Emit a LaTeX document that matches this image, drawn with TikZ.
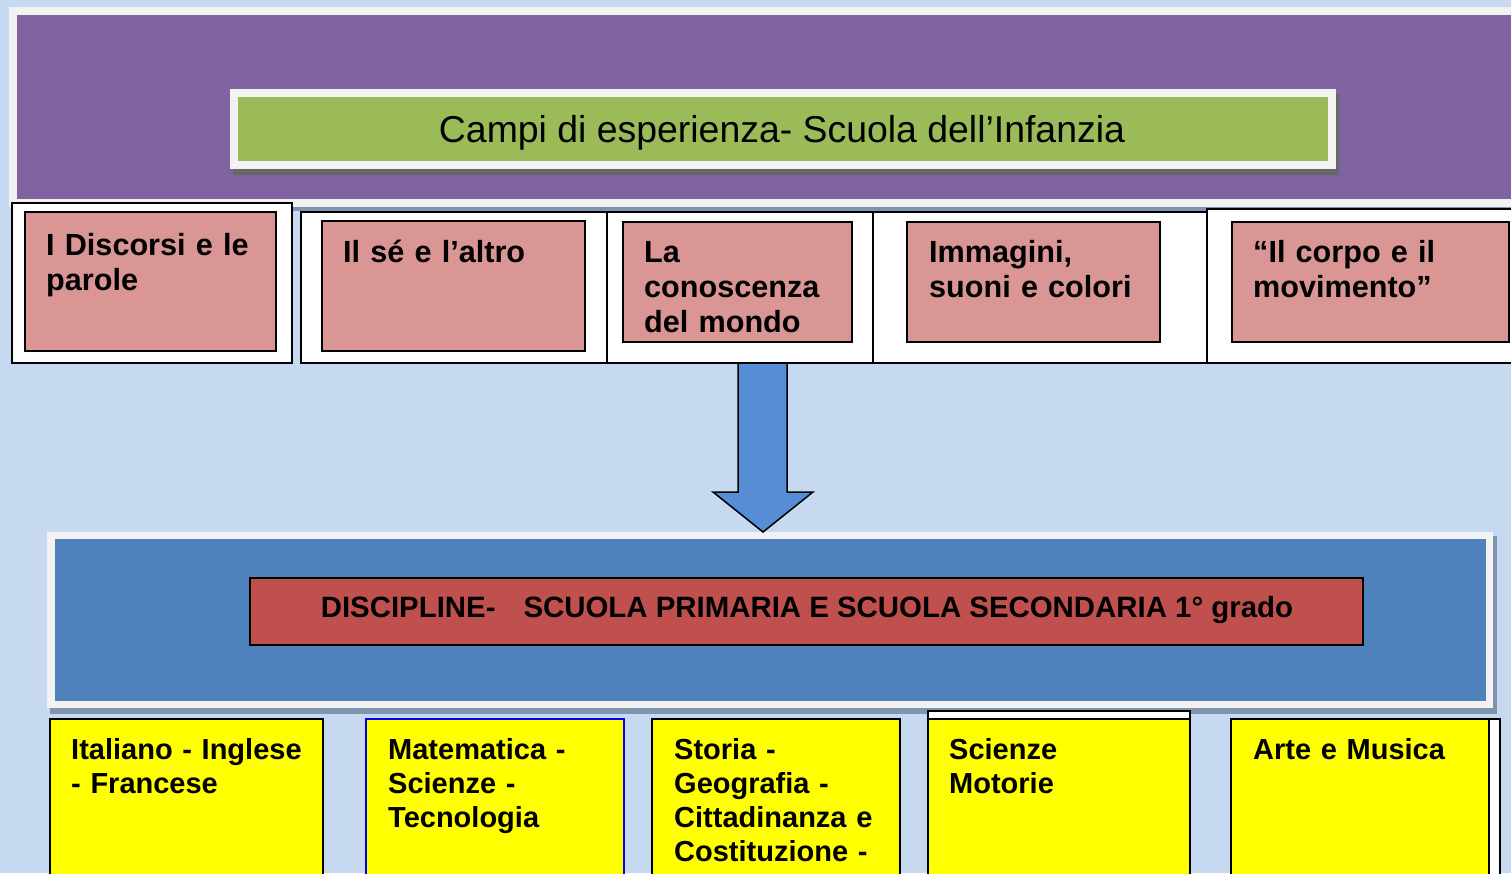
\documentclass[tikz,border=0pt]{standalone}
\usepackage{fontspec}
\setmainfont{Liberation Sans}
\definecolor{bgc}{HTML}{C6D9F0}
\definecolor{framec}{HTML}{F2F2F2}
\definecolor{purplec}{HTML}{8064A2}
\definecolor{greenc}{HTML}{9BBB59}
\definecolor{pinkc}{HTML}{D99694}
\definecolor{arrowc}{HTML}{558ED5}
\definecolor{panelc}{HTML}{4F81BD}
\definecolor{redc}{HTML}{C0504D}
\definecolor{yellowc}{HTML}{FFFF00}
\definecolor{darkshadow}{HTML}{676767}
\definecolor{panelshadow}{HTML}{7F94AE}
\newcommand\rnode[6]{\node[#6, anchor=north west, outer sep=0pt, inner sep=0pt,
  minimum width={#4pt-#2pt}, minimum height={#5pt-#3pt}] (#1) at (#2,#3) {};}
\tikzset{
  shadowbox/.style={rectangle, fill=#1},
  whiteframe/.style={rectangle, fill=framec},
  outerframe/.style={rectangle, fill=white, draw=black, line width=1.5pt},
  pinkbox/.style={rectangle, fill=pinkc, draw=black, line width=2pt},
  yellowbox/.style={rectangle, fill=yellowc, draw=#1, line width=1.8pt},
  yellowbox/.default=black,
  pinktext/.style={anchor=base west, inner sep=0pt, text width=400pt, align=left,
    font=\fontsize{30.6}{35}\selectfont\bfseries},
  yellowtext/.style={anchor=base west, inner sep=0pt, text width=400pt, align=left,
    font=\fontsize{29}{34}\selectfont\bfseries},
}
\begin{document}
\begin{tikzpicture}[x=1pt, y=-1pt]
\useasboundingbox (0,0) rectangle (1511,873);
\clip (0,0) rectangle (1511,873);
\fill[bgc] (0,0) rectangle (1511,873);
% top panel
\rnode{topshadow}{12}{10}{1530}{211}{shadowbox=panelshadow}
\rnode{topframe}{9}{7}{1530}{207}{whiteframe}
\rnode{toppanel}{17}{15}{1530}{199}{rectangle, fill=purplec}
\rnode{greenshadow}{233}{94}{1339}{175}{shadowbox=darkshadow}
\rnode{greenframe}{230}{89}{1336}{169}{whiteframe}
\rnode{greenbox}{238}{97}{1328}{161}{rectangle, fill=greenc}
\node[anchor=base, inner sep=0pt, font=\fontsize{37.4}{42}\selectfont] (title) at (782,142)
  {Campi di esperienza- Scuola dell’Infanzia};
% row of campi
\rnode{f2}{301}{212}{607}{363}{outerframe}
\rnode{f3}{607}{212}{873}{363}{outerframe}
\rnode{f4}{873}{212}{1207}{363}{outerframe}
\rnode{f5}{1207}{209}{1530}{363}{outerframe}
\rnode{f1}{12}{203}{292}{363}{outerframe, line width=2pt}
\rnode{p1}{25}{212}{276}{351}{pinkbox}
\rnode{p2}{322}{221}{585}{351}{pinkbox}
\rnode{p3}{623}{222}{852}{342}{pinkbox}
\rnode{p4}{907}{222}{1160}{342}{pinkbox}
\rnode{p5}{1232}{222}{1509}{342}{pinkbox}
\node[pinktext] (t1) at (46,255) {I Discorsi e le\\parole};
\node[pinktext] (t2) at (343,262) {Il sé e l’altro};
\node[pinktext] (t3) at (644,262) {La\\conoscenza\\del mondo};
\node[pinktext] (t4) at (929,262) {Immagini,\\suoni e colori};
\node[pinktext] (t5) at (1253,262) {“Il corpo e il\\movimento”};
% lower panel
\rnode{lowshadow}{50}{536}{1497}{714}{shadowbox=panelshadow}
\rnode{lowframe}{47}{532}{1493}{708}{whiteframe}
\rnode{lowpanel}{55}{539}{1486}{701}{rectangle, fill=panelc}
\rnode{redbox}{250}{578}{1363}{645}{rectangle, fill=redc, draw=black, line width=1.8pt}
\node[anchor=base, inner sep=0pt, font=\fontsize{29.4}{34}\selectfont\bfseries] (disc) at (807,617)
  {DISCIPLINE-\hspace{0.95em}SCUOLA PRIMARIA E SCUOLA SECONDARIA 1° grado};
% arrow
\filldraw[fill=arrowc, draw=black, line width=1.5pt, line join=miter]
  (738,363) -- (787,363) -- (787,492) -- (813,492) -- (763,532) -- (713,492) -- (738,492) -- cycle;
% discipline boxes
\rnode{y1}{50}{719}{323}{890}{yellowbox}
\rnode{y2}{366}{719}{624}{890}{yellowbox=blue}
\rnode{y3}{652}{719}{900}{890}{yellowbox}
\rnode{y4f}{928}{711}{1190}{890}{outerframe}
\rnode{y4}{928}{719}{1190}{890}{yellowbox}
\rnode{y5f}{1231}{719}{1500}{890}{outerframe}
\rnode{y5}{1231}{719}{1489}{890}{yellowbox}
\node[yellowtext] (u1) at (71,759) {Italiano - Inglese\\- Francese};
\node[yellowtext] (u2) at (388,759) {Matematica -\\Scienze -\\Tecnologia};
\node[yellowtext] (u3) at (674,759) {Storia -\\Geografia -\\Cittadinanza e\\Costituzione -};
\node[yellowtext] (u4) at (949,759) {Scienze\\Motorie};
\node[yellowtext] (u5) at (1253,759) {Arte e Musica};
\end{tikzpicture}
\end{document}
